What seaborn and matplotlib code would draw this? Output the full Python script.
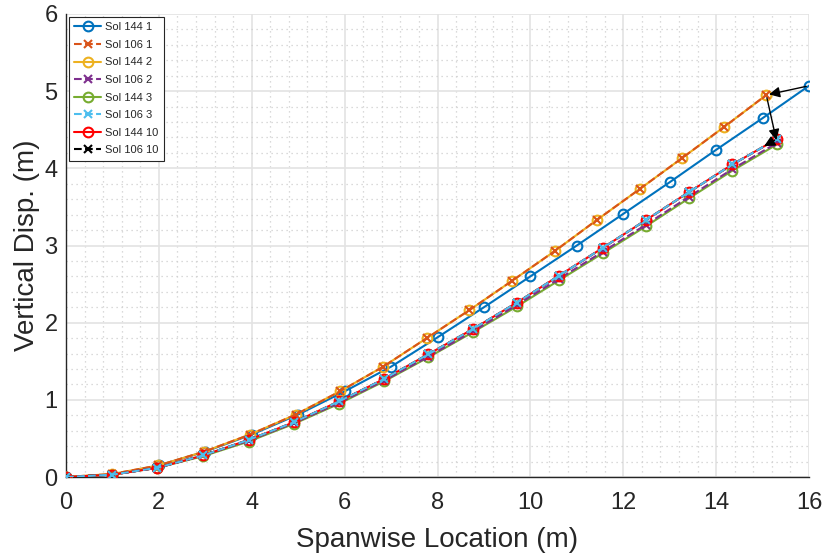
import numpy as np
import pandas as pd
import matplotlib
matplotlib.use("Agg")
import matplotlib.pyplot as plt
import seaborn as sns
from matplotlib.ticker import MultipleLocator

# Spanwise node positions (m)
x_144_1 = [0, 1, 2, 3, 4, 5, 6, 7, 8, 9, 10, 11, 12, 13, 14, 15, 16]
x_106_1 = [0, 1.00, 1.99, 2.98, 3.96, 4.95, 5.90, 6.83, 7.77, 8.68, 9.60,
           10.53, 11.43, 12.35, 13.26, 14.18, 15.08]
x_low = [0, 0.99, 1.97, 2.95, 3.93, 4.91, 5.88, 6.85, 7.80, 8.77, 9.71,
         10.62, 11.56, 12.49, 13.41, 14.35, 15.31]

# Vertical displacement (m)
y_144_1 = [0, 0.03, 0.15, 0.33, 0.55, 0.81, 1.11, 1.43, 1.81, 2.20, 2.60,
           3.00, 3.41, 3.82, 4.24, 4.65, 5.07]
y_106_1 = [0, 0.04, 0.15, 0.33, 0.55, 0.81, 1.11, 1.43, 1.80, 2.16, 2.54,
           2.93, 3.33, 3.73, 4.13, 4.54, 4.95]
y_144_2 = [0, 0.04, 0.15, 0.33, 0.55, 0.81, 1.11, 1.43, 1.80, 2.16, 2.54,
           2.93, 3.33, 3.73, 4.13, 4.54, 4.95]
y_106_2 = [0, 0.03, 0.12, 0.28, 0.47, 0.70, 0.96, 1.25, 1.56, 1.89, 2.23,
           2.57, 2.92, 3.27, 3.63, 3.99, 4.33]
y_144_3 = [0, 0.03, 0.12, 0.27, 0.46, 0.69, 0.95, 1.24, 1.55, 1.88, 2.21,
           2.55, 2.90, 3.25, 3.61, 3.97, 4.31]
y_106_3 = [0, 0.03, 0.12, 0.28, 0.48, 0.71, 0.98, 1.27, 1.59, 1.92, 2.26,
           2.61, 2.97, 3.33, 3.69, 4.05, 4.38]
y_144_10 = [0, 0.03, 0.12, 0.28, 0.48, 0.71, 0.98, 1.27, 1.59, 1.92, 2.26,
            2.61, 2.97, 3.33, 3.69, 4.05, 4.38]
y_106_10 = [0, 0.03, 0.12, 0.28, 0.48, 0.71, 0.98, 1.27, 1.59, 1.92, 2.26,
            2.61, 2.97, 3.33, 3.69, 4.05, 4.38]

labels = ["Sol 144 1", "Sol 106 1", "Sol 144 2", "Sol 106 2",
          "Sol 144 3", "Sol 106 3", "Sol 144 10", "Sol 106 10"]
xs = [x_144_1, x_106_1, x_106_1, x_low, x_low, x_low, x_low, x_low]
ys = [y_144_1, y_106_1, y_144_2, y_106_2, y_144_3, y_106_3, y_144_10, y_106_10]
colors = ["#0072BD", "#D95319", "#EDB120", "#7E2F8E",
          "#77AC30", "#4DBEEE", "#FF0000", "#000000"]
markers = ["o", "x", "o", "x", "o", "x", "o", "x"]
styles = ["-", "--", "-", "--", "-", "--", "-", "--"]
# stacking order of the overlapping curves
zorders = [3, 5, 4, 4.2, 4.1, 7, 6, 5.5]

sns.set_style("white")
plt.rcParams["font.family"] = ["Liberation Sans", "DejaVu Sans"]

fig = plt.figure(figsize=(8.22, 5.55), dpi=100)
ax = fig.add_axes([0.0803, 0.1405, 0.9039, 0.8343])

for xv, yv, lab, c, m, ls, z in zip(xs, ys, labels, colors, markers, styles, zorders):
    df = pd.DataFrame({"x": xv, "y": yv})
    sns.lineplot(data=df, x="x", y="y", ax=ax, sort=False, estimator=None,
                 color=c, linestyle=ls, linewidth=1.5, marker=m,
                 markersize=7 if m == "o" else 6,
                 markerfacecolor="none", markeredgecolor=c,
                 markeredgewidth=1.5, label=lab, zorder=z)

# Arrows linking the tip positions
arrow_kw = dict(arrowstyle="-|>", color="black", lw=1.0, mutation_scale=16)
ax.annotate("", xy=(x_106_1[-1], y_106_1[-1]), xytext=(x_144_1[-1], y_144_1[-1]),
            arrowprops=arrow_kw, zorder=10)
ax.annotate("", xy=(x_low[-1], y_106_2[-1]), xytext=(x_106_1[-1], y_106_1[-1]),
            arrowprops=arrow_kw, zorder=10)
ax.annotate("", xy=(14.98, 4.27), xytext=(x_low[-1], y_106_3[-1]),
            arrowprops=arrow_kw, zorder=10)

ax.set_xlim(0, 16)
ax.set_ylim(0, 6)
ax.xaxis.set_major_locator(MultipleLocator(2))
ax.yaxis.set_major_locator(MultipleLocator(1))
ax.xaxis.set_minor_locator(MultipleLocator(0.4))
ax.yaxis.set_minor_locator(MultipleLocator(0.2))
ax.grid(which="major", color="#e3e3e3", linewidth=1.2, linestyle="-")
ax.grid(which="minor", color="#cfcfcf", linewidth=0.9, linestyle=(0, (1, 3)))
ax.set_axisbelow(True)

for side in ["top", "right"]:
    ax.spines[side].set_visible(False)
for side in ["left", "bottom"]:
    ax.spines[side].set_color("#262626")
    ax.spines[side].set_linewidth(1.0)

ax.tick_params(which="major", direction="in", length=5, width=1.0,
               colors="#262626", labelsize=17)
ax.tick_params(axis="x", which="major", pad=11)
ax.tick_params(axis="y", which="major", pad=6)
ax.tick_params(which="minor", length=0)

ax.set_xlabel("Spanwise Location (m)", fontsize=20, color="#262626", labelpad=9)
ax.set_ylabel("Vertical Disp. (m)", fontsize=20, color="#262626", labelpad=3)

leg = ax.legend(loc="upper left", fontsize=8, frameon=True, fancybox=False,
                edgecolor="#262626", framealpha=1.0, borderaxespad=0.25,
                handlelength=2.4, labelspacing=0.68, borderpad=0.5,
                handletextpad=0.4)
leg.get_frame().set_linewidth(0.8)

fig.savefig("out.png", dpi=100)
